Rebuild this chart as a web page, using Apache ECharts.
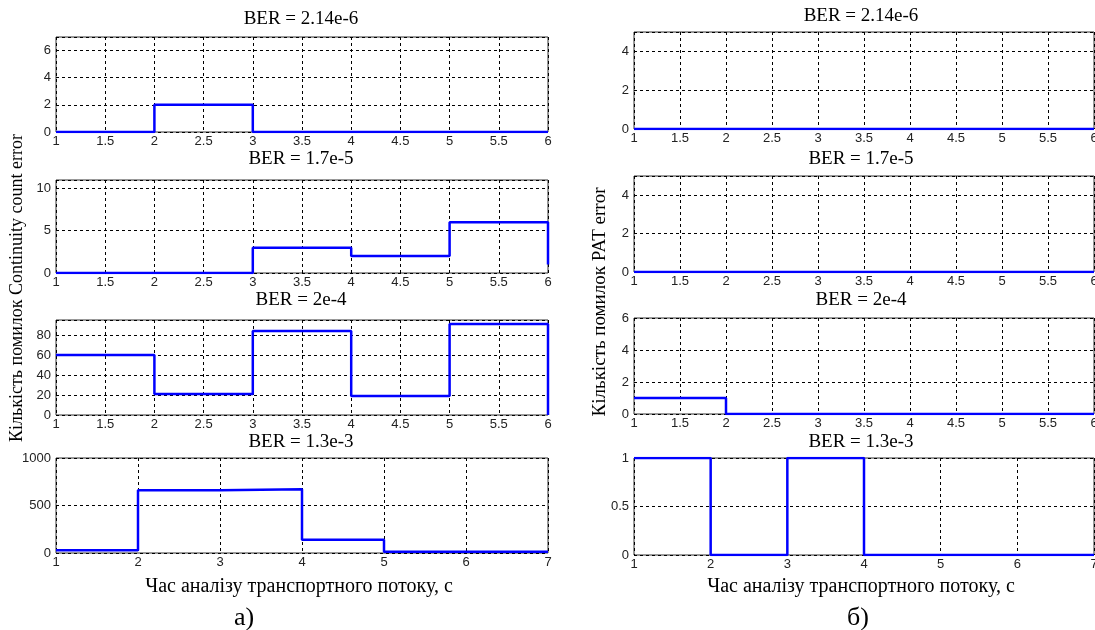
<!DOCTYPE html>
<html>
<head>
<meta charset="utf-8">
<script src="https://cdn.jsdelivr.net/npm/echarts@6/dist/echarts.min.js"></script>
<style>
  html, body { margin: 0; padding: 0; background: #fff; overflow: hidden; }
  #chart { width: 1095px; height: 630px; }
</style>
</head>
<body>
<div id="chart"></div>
<script>
// часові точки (с)
var time6 = [1, 2, 3, 4, 5, 6];
var time7 = [1, 2, 3, 4, 5, 6, 7];

var berTitles = ['BER = 2.14e-6', 'BER = 1.7e-5', 'BER = 2e-4', 'BER = 1.3e-3'];

// а) Continuity count error
var ccError1 = [0, 2, 0, 0, 0, 0];
var ccError2 = [0, 0, 3, 2, 6, 1];
var ccError3 = [60, 21, 84, 19, 91, 0];
var ccError4 = [30, 660, 670, 140, 12, 12, 12];

// б) PAT error
var patError1 = [0, 0, 0, 0, 0, 0];
var patError2 = [0, 0, 0, 0, 0, 0];
var patError3 = [1, 0, 0, 0, 0, 0];
var patError4 = [1, 0, 1, 0, 0, 0, 0];

var xTitle = 'Час аналізу транспортного потоку, с';
var yTitleLeft = 'Кількість помилок Continuity count error';
var yTitleRight = 'Кількість помилок PAT error';

var serif = '"Liberation Serif", "DejaVu Serif", serif';
var sans = '"Liberation Sans", Arial, sans-serif';

// панелі
var panels = [
  { left: 56, top: 37, width: 492, height: 95, yMax: 7, yInt: 2, xMax: 6, xInt: 0.5, x: time6, y: ccError1 },
  { left: 56, top: 180, width: 492, height: 93, yMax: 11, yInt: 5, xMax: 6, xInt: 0.5, x: time6, y: ccError2 },
  { left: 56, top: 320, width: 492, height: 95, yMax: 95, yInt: 20, xMax: 6, xInt: 0.5, x: time6, y: ccError3 },
  { left: 56, top: 458, width: 492, height: 95, yMax: 1000, yInt: 500, xMax: 7, xInt: 1, x: time7, y: ccError4 },
  { left: 634, top: 32, width: 460, height: 97, yMax: 5, yInt: 2, xMax: 6, xInt: 0.5, x: time6, y: patError1 },
  { left: 634, top: 176, width: 460, height: 96, yMax: 5, yInt: 2, xMax: 6, xInt: 0.5, x: time6, y: patError2 },
  { left: 634, top: 318, width: 460, height: 96, yMax: 6, yInt: 2, xMax: 6, xInt: 0.5, x: time6, y: patError3 },
  { left: 634, top: 458, width: 460, height: 97, yMax: 1, yInt: 0.5, xMax: 7, xInt: 1, x: time7, y: patError4 }
];

// центри заголовків по вертикалі
var titleY = [[19, 159, 300, 442], [16, 159, 300, 442]];
var titleSize = 19;

var myChart = echarts.init(document.getElementById('chart'));

var grids = [], xAxes = [], yAxes = [], series = [], titles = [];

panels.forEach(function (p, i) {
  grids.push({
    left: p.left, top: p.top, width: p.width, height: p.height,
    outerBoundsMode: 'none', containLabel: false,
    show: true, borderColor: '#333', borderWidth: 1, backgroundColor: '#fff'
  });
  var gridLine = { show: true, lineStyle: { color: '#000', type: [3, 3], width: 1 } };
  var label = { color: '#222', fontFamily: sans, fontSize: 13, formatter: function (v) { return String(v); } };
  xAxes.push({
    type: 'value', gridIndex: i, min: 1, max: p.xMax, interval: p.xInt,
    axisLine: { show: false }, axisTick: { show: false },
    axisLabel: Object.assign({ margin: 3 }, label),
    splitLine: gridLine
  });
  yAxes.push({
    type: 'value', gridIndex: i, min: 0, max: p.yMax, interval: p.yInt,
    axisLine: { show: false }, axisTick: { show: false },
    axisLabel: Object.assign({ margin: 5, showMaxLabel: p.yMax % p.yInt === 0 }, label),
    splitLine: gridLine
  });
  series.push({
    type: 'line', xAxisIndex: i, yAxisIndex: i, step: 'end', symbol: 'none',
    lineStyle: { color: '#0000ff', width: 2.5 },
    data: p.x.map(function (t, k) { return [t, p.y[k]]; })
  });
  var side = i < 4 ? 0 : 1;
  titles.push({
    text: berTitles[i % 4], padding: 0,
    left: side === 0 ? 301 : 861, top: titleY[side][i % 4] - titleSize / 2, textAlign: 'center',
    textStyle: { fontFamily: serif, fontSize: titleSize, fontWeight: 'normal', color: '#000' }
  });
});

var option = {
  animation: false,
  title: titles,
  grid: grids,
  xAxis: xAxes,
  yAxis: yAxes,
  series: series,
  graphic: [
    { type: 'text', x: 17, y: 288, rotation: Math.PI / 2,
      style: { text: yTitleLeft, fontFamily: serif, fontSize: 18, fill: '#000', align: 'center', verticalAlign: 'middle' } },
    { type: 'text', x: 600, y: 302, rotation: Math.PI / 2,
      style: { text: yTitleRight, fontFamily: serif, fontSize: 19, fill: '#000', align: 'center', verticalAlign: 'middle' } },
    { type: 'text', x: 299, y: 587,
      style: { text: xTitle, fontFamily: serif, fontSize: 20, fill: '#000', align: 'center', verticalAlign: 'middle' } },
    { type: 'text', x: 861, y: 587,
      style: { text: xTitle, fontFamily: serif, fontSize: 20, fill: '#000', align: 'center', verticalAlign: 'middle' } },
    { type: 'text', x: 244, y: 618,
      style: { text: 'а)', fontFamily: serif, fontSize: 26, fill: '#000', align: 'center', verticalAlign: 'middle' } },
    { type: 'text', x: 858, y: 618,
      style: { text: 'б)', fontFamily: serif, fontSize: 26, fill: '#000', align: 'center', verticalAlign: 'middle' } }
  ]
};

myChart.setOption(option);
</script>
</body>
</html>
